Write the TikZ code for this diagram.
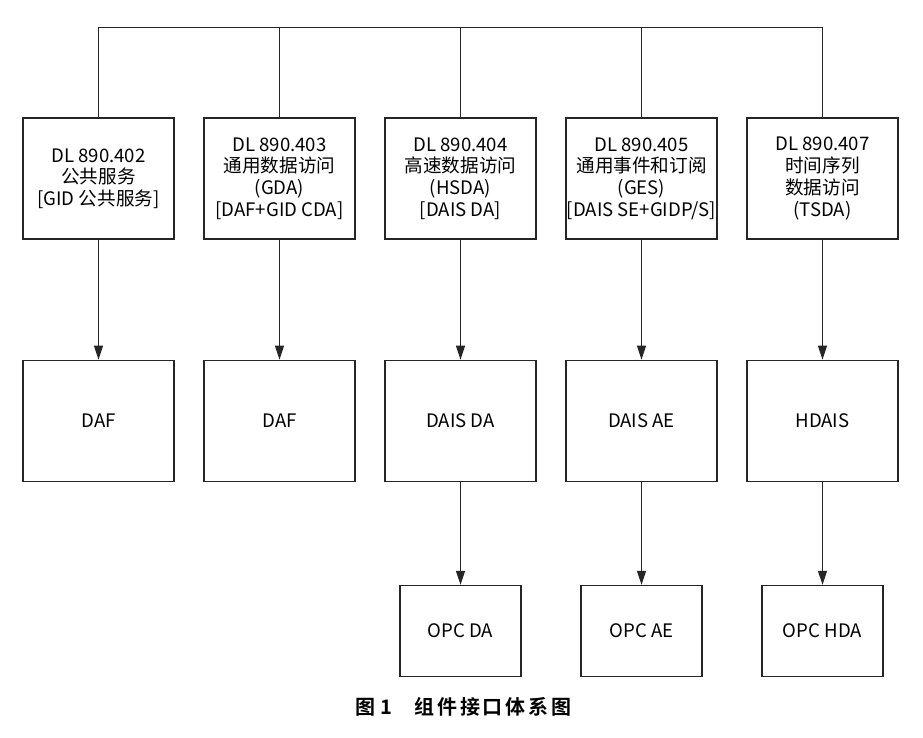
\documentclass[tikz,border=0pt]{standalone}
\usepackage{fontspec}
\setmainfont{Noto Sans CJK SC}[BoldFont={Noto Sans CJK SC Bold}]
\newfontfamily\capfont{Noto Sans CJK SC Bold}[LetterSpace=14]
\usepackage{tikz}
\usetikzlibrary{arrows.meta,positioning}

\begin{document}
\begin{tikzpicture}[
    x=1pt,y=1pt,
    line width=1.2pt,draw=black!85,
    node distance=120pt and 28.8pt,
    topbox/.style={draw,align=center,font=\fontsize{18.6}{21.7}\selectfont,
                   minimum width=151pt,minimum height=121pt,inner sep=0pt},
    midbox/.style={topbox},
    botbox/.style={draw,align=center,font=\fontsize{18.6}{21.7}\selectfont,
                   minimum width=121pt,minimum height=91pt,inner sep=0pt},
    arr/.style={-{Triangle[length=14pt,width=9pt]}}
  ]
  \useasboundingbox (-98.5,178.5) rectangle (824.5,-558.5);

  % standards
  \node[topbox] (s402) {DL 890.402\\公共服务\\{}[GID 公共服务]};
  \node[topbox,right=of s402] (s403) {DL 890.403\\通用数据访问\\(GDA)\\{}[DAF+GID CDA]};
  \node[topbox,right=of s403] (s404) {DL 890.404\\高速数据访问\\(HSDA)\\{}[DAIS DA]};
  \node[topbox,right=of s404] (s405) {DL 890.405\\通用事件和订阅\\(GES)\\{}[DAIS SE+GIDP/S]};
  \node[topbox,right=of s405] (s407) {DL 890.407\\时间序列\\数据访问\\(TSDA)};

  % interfaces
  \node[midbox,below=of s402] (daf1) {DAF};
  \node[midbox,below=of s403] (daf2) {DAF};
  \node[midbox,below=of s404] (daisda) {DAIS DA};
  \node[midbox,below=of s405] (daisae) {DAIS AE};
  \node[midbox,below=of s407] (hdais) {HDAIS};

  % OPC
  \node[botbox,below=103pt of daisda] (opcda) {OPC DA};
  \node[botbox,below=103pt of daisae] (opcae) {OPC AE};
  \node[botbox,below=103pt of hdais] (opchda) {OPC HDA};

  \coordinate (bus) at ([yshift=90pt]s402.north);
  \draw (s402.north) -- (bus) -| (s407.north);
  \foreach \n in {s403,s404,s405}
    \draw (\n.north) -- (\n.north |- bus);

  \foreach \a/\b in {s402/daf1,s403/daf2,s404/daisda,s405/daisae,s407/hdais,
                     daisda/opcda,daisae/opcae,hdais/opchda}
    \draw[arr] (\a) -- (\b);

  \node[font=\capfont\fontsize{20}{23}\selectfont] (cap) at (365,-528.5)
       {图\hspace{5pt}1\hspace{22pt}组件接口体系图};
\end{tikzpicture}
\end{document}
